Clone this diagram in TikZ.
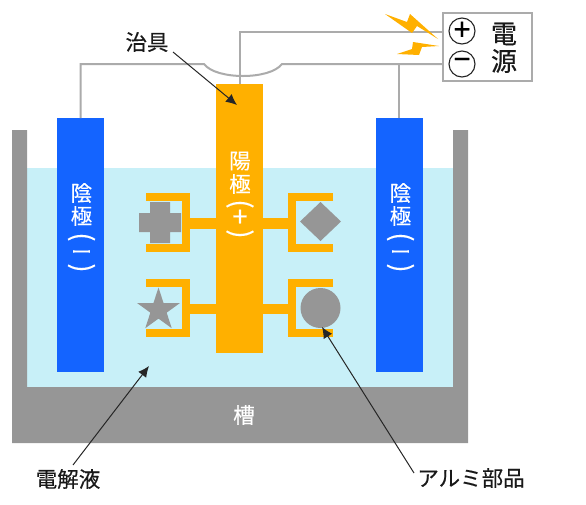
\documentclass[tikz,border=0pt]{standalone}
\usepackage{fontspec}
\usepackage{xcolor}
\setmainfont{Noto Sans CJK JP}[FakeBold=0.35]
\usetikzlibrary{arrows.meta,positioning,shapes.geometric}

\definecolor{tankgray}{HTML}{969696}
\definecolor{wiregray}{HTML}{ABABAB}
\definecolor{liquidblue}{HTML}{C8F0F8}
\definecolor{cathodeblue}{HTML}{1464FF}
\definecolor{jigorange}{HTML}{FFB000}

\tikzset{
  electrode/.style={rectangle, inner sep=0pt, outer sep=0pt},
  whitetext/.style={text=white, inner sep=0pt, font=\fontsize{21.5}{21.5}\selectfont},
  whitemark/.style={text=white, inner sep=0pt, font=\fontsize{27}{27}\selectfont},
  blacktext/.style={text=black!90, inner sep=0pt, font=\fontsize{21.5}{21.5}\selectfont},
  powertext/.style={text=black!90, inner sep=0pt, font=\fontsize{26}{26}\selectfont},
  wire/.style={draw=wiregray, line width=2pt},
  jigarm/.style={draw=jigorange, line width=8pt},
  jigstem/.style={draw=jigorange, line width=10.5pt},
  part/.style={fill=tankgray, inner sep=0pt, outer sep=0pt},
  pointer/.style={draw=black!85, line width=1pt, -{Latex[length=11pt,width=10pt]}},
  spark/.style={fill=jigorange},
  pole/.style={circle, draw=black!85, line width=1.1pt, minimum size=26pt, inner sep=0pt, font=\fontsize{30}{30}\selectfont}
}

\begin{document}
\begin{tikzpicture}[x=1pt, y=-1pt]
\useasboundingbox (0,0) rectangle (586,504);

% Tank and liquid
\fill[liquidblue] (27,168) rectangle (453,387);
\fill[tankgray] (12,130) -- (27,130) -- (27,387) -- (453,387) -- (453,130) -- (468,130) -- (468,443) -- (12,443) -- cycle;
\node[whitetext] (tanklabel) at (244,415) {槽};

% Electrodes
\node[electrode, fill=cathodeblue, minimum width=47pt, minimum height=254pt] (cathodeL) at (80.5,245) {};
\node[electrode, fill=cathodeblue, minimum width=47pt, minimum height=254pt] (cathodeR) at (399,245) {};
\node[electrode, fill=jigorange, minimum width=47pt, minimum height=269pt] (anode) at (239.5,218.5) {};

% Jig arms
\draw[jigarm] (146,197) -| (186,248) -- (146,248);
\draw[jigarm] (333,197) -| (292,248) -- (333,248);
\draw[jigarm] (146,283) -| (186,333) -- (146,333);
\draw[jigarm] (333,283) -| (292,333) -- (333,333);
\draw[jigstem] (186,223.5) -- (anode.west |- 186,223.5);
\draw[jigstem] (292,223.5) -- (anode.east |- 292,223.5);
\draw[jigstem] (186,309) -- (anode.west |- 186,309);
\draw[jigstem] (292,309) -- (anode.east |- 292,309);

% Parts
\fill[tankgray] (150,202) -- (170,202) -- (170,213) -- (181,213) -- (181,232) -- (170,232) -- (170,243) -- (150,243) -- (150,232) -- (139,232) -- (139,213) -- (150,213) -- cycle;
\node[part, diamond, aspect=1.05, minimum width=41pt, minimum height=39pt] (partdiamond) at (320.5,221.5) {};
\node[part, star, star points=5, star point ratio=2.618, minimum size=45pt] (partstar) at (158.5,310) {};
\node[part, circle, minimum size=40pt] (partcircle) at (320.5,308) {};

% Electrode labels
\node[whitetext] (cL1) at (81.5,193) {陰};
\node[whitetext] (cL2) at (81.5,216) {極};
\node[whitemark, rotate=-90] (cL3) at (81.5,237) {(};
\node[whitetext, font=\fontsize{21}{21}\selectfont] (cL4) at (81.5,255) {ー};
\node[whitemark, rotate=-90] (cL5) at (81.5,268) {)};
\node[whitetext] (cR1) at (400.5,193) {陰};
\node[whitetext] (cR2) at (400.5,216) {極};
\node[whitemark, rotate=-90] (cR3) at (400.5,237) {(};
\node[whitetext, font=\fontsize{21}{21}\selectfont] (cR4) at (400.5,255) {ー};
\node[whitemark, rotate=-90] (cR5) at (400.5,268) {)};
\node[whitetext] (a1) at (240,161) {陽};
\node[whitetext] (a2) at (240,184) {極};
\node[whitemark, rotate=-90] (a3) at (240,204) {(};
\node[whitemark] (a4) at (240,218) {+};
\node[whitemark, rotate=-90] (a5) at (240,234) {)};

% Power supply
\node[draw=wiregray, line width=2pt, fill=white, minimum width=89pt, minimum height=68pt, inner sep=0pt] (power) at (487.5,47) {};
\node[pole] (plus) at (462,31) {+};
\node[pole] (minus) at (462,64) {−};
\node[powertext] (power1) at (504,34) {電};
\node[powertext] (power2) at (504,61) {源};

% Wires
\coordinate (dipL) at (204,64);
\coordinate (dipR) at (282,64);
\draw[wire] (anode.north) -- (anode.north |- 0,32) -- (power.west |- 0,32);
\draw[wire] (cathodeL.north) |- (dipL) .. controls (216,80) and (270,80) .. (dipR) -- (power.west |- dipR);
\draw[wire] (cathodeR.north) -- (cathodeR.north |- dipR);

% Sparks
\fill[spark] (385,14) -- (407,22) -- (410,14) -- (438,39) -- (417,26) -- (412,33) -- cycle;
\fill[spark] (397,54) -- (412,49) -- (413,42) -- (439,46) -- (422,47) -- (419,55) -- cycle;

% Callouts
\node[blacktext] (jiglabel) at (147,42) {治具};
\node[blacktext] (liquidlabel) at (68,479) {電解液};
\node[blacktext] (partlabel) at (471,478) {アルミ部品};
\coordinate (jigstart) at (173,52);
\coordinate (jigtip) at (237,105);
\coordinate (liquidstart) at (73,465);
\coordinate (liquidtip) at (149,366);
\coordinate (partstart) at (414,473);
\coordinate (parttip) at (322,327);
\draw[pointer] (jigstart) -- (jigtip);
\draw[pointer] (liquidstart) -- (liquidtip);
\draw[pointer] (partstart) -- (parttip);
\end{tikzpicture}
\end{document}
